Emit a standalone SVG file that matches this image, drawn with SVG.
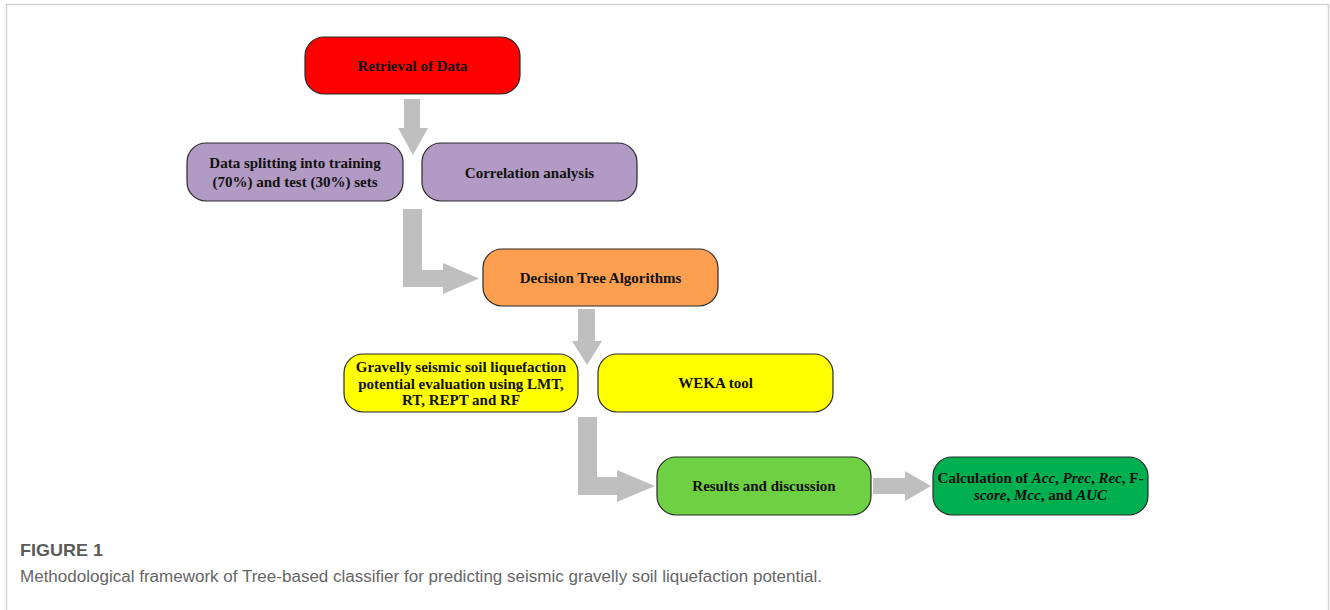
<svg xmlns="http://www.w3.org/2000/svg" width="1330" height="610" viewBox="0 0 1330 610">
<style>
.node{stroke:#2a2a2a;stroke-width:1.2}
.t{font-family:"Liberation Serif","Times New Roman",serif;font-weight:bold;font-size:15px;fill:#111;text-anchor:middle}
.arr{fill:#bfbfbf;stroke:none}
.cap1{font-family:"Liberation Sans","Open Sans",sans-serif;font-weight:bold;font-size:17px;fill:#5a5a5a}
.cap2{font-family:"Liberation Sans","Open Sans",sans-serif;font-size:16px;fill:#666}
</style>
<rect x="0" y="0" width="1330" height="610" fill="#ffffff"/>
<path d="M6.5 610 V4.5 H1328.5 V610" fill="none" stroke="#d4d4d4" stroke-width="1.5"/>
<g id="connectors">
  <path class="arr" d="M404 99 H420 V128 H428 L413 155 L398 128 H404 Z"/>
  <path class="arr" d="M403 209 H422 V270 H443 V263 L479 278.5 L443 294 V287 H403 Z"/>
  <path class="arr" d="M578 309 H595 V341 H602 L587 365 L572 341 H578 Z"/>
  <path class="arr" d="M578 417 H597 V477 H617 V470 L655 486 L617 502 V495 H578 Z"/>
  <path class="arr" d="M873 478 H905 V471 L931 486 L905 501 V494 H873 Z"/>
</g>
<g id="n-retrieval">
  <rect class="node" x="305" y="37" width="215" height="57" rx="19" fill="#ff0000"/>
  <text class="t" x="412.5" y="71">Retrieval of Data</text>
</g>
<g id="n-splitting">
  <rect class="node" x="187" y="143" width="216" height="58" rx="19" fill="#b19ac4"/>
  <text class="t" x="295" y="168">Data splitting into training</text>
  <text class="t" x="295" y="187">(70%) and test (30%) sets</text>
</g>
<g id="n-correlation">
  <rect class="node" x="422" y="143" width="215" height="58" rx="19" fill="#b19ac4"/>
  <text class="t" x="529.5" y="177.5">Correlation analysis</text>
</g>
<g id="n-decision">
  <rect class="node" x="483" y="249" width="235" height="57" rx="19" fill="#fd9f50"/>
  <text class="t" x="600.5" y="283">Decision Tree Algorithms</text>
</g>
<g id="n-gravelly">
  <rect class="node" x="344" y="354" width="234" height="58" rx="19" fill="#ffff00"/>
  <text class="t" x="461" y="372">Gravelly seismic soil liquefaction</text>
  <text class="t" x="461" y="388.5">potential evaluation  using LMT,</text>
  <text class="t" x="461" y="405">RT, REPT and RF</text>
</g>
<g id="n-weka">
  <rect class="node" x="598" y="354" width="235" height="58" rx="19" fill="#ffff00"/>
  <text class="t" x="715.5" y="388">WEKA tool</text>
</g>
<g id="n-results">
  <rect class="node" x="657" y="457" width="214" height="58" rx="19" fill="#6ed043"/>
  <text class="t" x="764" y="491">Results and discussion</text>
</g>
<g id="n-calc">
  <rect class="node" x="933" y="457" width="215" height="58" rx="19" fill="#00af50"/>
  <text class="t" x="1040.5" y="483">Calculation of <tspan font-style="italic">Acc</tspan>, <tspan font-style="italic">Prec</tspan>, <tspan font-style="italic">Rec</tspan>, F-</text>
  <text class="t" x="1040.5" y="499.5"><tspan font-style="italic">score</tspan>, <tspan font-style="italic">Mcc</tspan>, and <tspan font-style="italic">AUC</tspan></text>
</g>
<g id="caption">
  <text class="cap1" x="20" y="556" textLength="83" lengthAdjust="spacingAndGlyphs">FIGURE 1</text>
  <text class="cap2" x="20" y="582" textLength="802" lengthAdjust="spacingAndGlyphs">Methodological framework of Tree-based classifier for predicting seismic gravelly soil liquefaction potential.</text>
</g>
</svg>
